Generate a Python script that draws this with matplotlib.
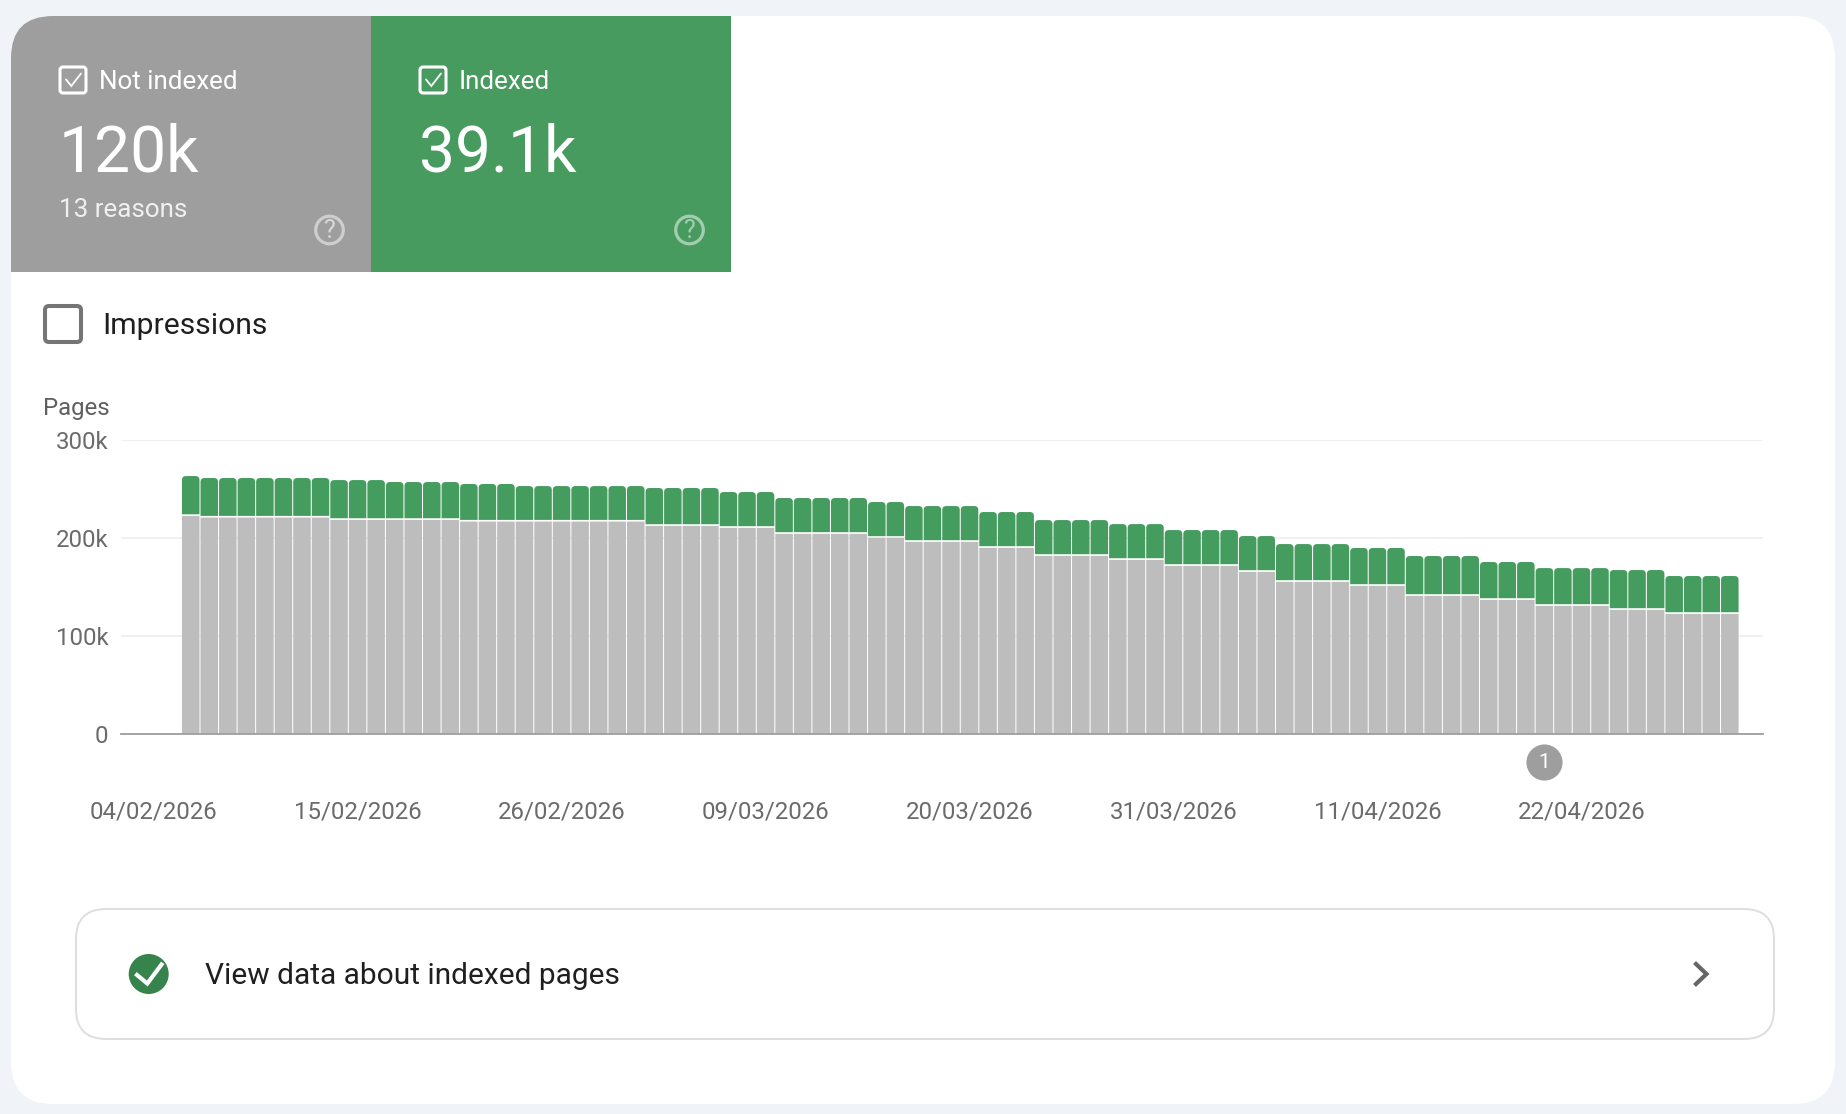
import matplotlib
matplotlib.use('Agg')
import matplotlib.pyplot as plt
from matplotlib.patches import FancyBboxPatch, Rectangle, Circle, PathPatch
from matplotlib.path import Path

plt.rcParams['font.family'] = ['Roboto', 'DejaVu Sans']

# values in thousands of pages, one per day
not_indexed = [223.0,
               221.4, 221.4, 221.4, 221.4, 221.4, 221.4, 221.4,
               219.0, 219.0, 219.0, 219.0, 219.0, 219.0, 219.0,
               217.3, 217.3, 217.3, 217.3, 217.3, 217.3, 217.3, 217.3, 217.3, 217.3,
               212.9, 212.9, 212.9, 212.9,
               210.9, 210.9, 210.9,
               204.8, 204.8, 204.8, 204.8, 204.8,
               200.7, 200.7,
               196.6, 196.6, 196.6, 196.6,
               190.5, 190.5, 190.5,
               182.3, 182.3, 182.3, 182.3,
               178.2, 178.2, 178.2,
               172.1, 172.1, 172.1, 172.1,
               166.0, 166.0,
               155.8, 155.8, 155.8, 155.8,
               151.7, 151.7, 151.7,
               141.5, 141.5, 141.5, 141.5,
               137.4, 137.4, 137.4,
               131.3, 131.3, 131.3, 131.3,
               127.2, 127.2, 127.2,
               123.1, 123.1, 123.1, 123.1]
indexed = [39.9,
           39.5, 39.5, 39.5, 39.5, 39.5, 39.5, 39.5,
           39.8, 39.8, 39.8,
           37.8, 37.8, 37.8, 37.8,
           37.5, 37.5, 37.5,
           35.4, 35.4, 35.4, 35.4, 35.4, 35.4, 35.4,
           37.8, 37.8, 37.8, 37.8,
           35.7, 35.7, 35.7,
           35.7, 35.7, 35.7, 35.7, 35.7,
           35.7, 35.7,
           35.7, 35.7, 35.7, 35.7,
           35.7, 35.7, 35.7,
           35.7, 35.7, 35.7, 35.7,
           35.7, 35.7, 35.7,
           35.7, 35.7, 35.7, 35.7,
           35.7, 35.7,
           37.7, 37.7, 37.7, 37.7,
           37.8, 37.8, 37.8,
           39.8, 39.8, 39.8, 39.8,
           37.8, 37.8, 37.8,
           37.7, 37.7, 37.7, 37.7,
           39.8, 39.8, 39.8,
           37.8, 37.8, 37.8, 37.8]
date_labels = ['04/02/2026', '15/02/2026', '26/02/2026', '09/03/2026',
               '20/03/2026', '31/03/2026', '11/04/2026', '22/04/2026']
date_ticks = [-2, 9, 20, 31, 42, 53, 64, 75]
y_ticks = [0, 100, 200, 300]
y_labels = ['0', '100k', '200k', '300k']
annotation_day = 73

W, H = 1846, 1114
BG = '#f0f4f9'
GREY_TILE = '#9e9e9e'
GREEN = '#489b5f'
BAR_GREEN = '#459c5f'
BAR_GREY = '#bdbdbd'
TXT = '#1f1f1f'
AXIS_TXT = '#6b6b6b'

fig = plt.figure(figsize=(W / 100, H / 100), dpi=100, facecolor=BG)

# page furniture, in pixel coordinates
ui = fig.add_axes([0, 0, 1, 1], zorder=1)
ui.set_xlim(0, W)
ui.set_ylim(H, 0)
ui.axis('off')

card = FancyBboxPatch((11, 16), 1824, 1088, boxstyle='round,pad=0,rounding_size=42',
                      fc='white', ec='none')
ui.add_patch(card)
for x0, col in [(11, GREY_TILE), (371, GREEN)]:
    tile = Rectangle((x0, 16), 360, 256, fc=col, ec='none')
    ui.add_patch(tile)
    tile.set_clip_path(card)


def tile_head(dx, label, number, col):
    ui.add_patch(FancyBboxPatch((60 + dx, 67), 26, 26, boxstyle='round,pad=0,rounding_size=3',
                                fc='none', ec='white', lw=2.2))
    ui.plot([66 + dx, 71.3 + dx, 81 + dx], [79.5, 86, 73.5], color='white', lw=1.3,
            solid_capstyle='round', solid_joinstyle='miter')
    ui.text(99 + dx, 88.7, label, color='white', fontsize=18.7, va='baseline')
    ui.text(59 + dx, 171, number, color='white', fontsize=46.2, va='baseline')
    ui.add_patch(Circle((329.5 + dx, 230), 13.8, fc='none', ec='white', lw=2.3, alpha=0.5))
    ui.text(329.5 + dx, 230.5, '?', color=col, fontsize=18, ha='center', va='center')


tile_head(0, 'Not indexed', '120k', '#d8d8d8')
tile_head(360, 'Indexed', '39.1k', '#a4cdb0')
ui.text(59, 217, '13 reasons', color='#f0f0f0', fontsize=18.7, va='baseline')

ui.add_patch(FancyBboxPatch((45, 306), 36, 36, boxstyle='round,pad=0,rounding_size=4',
                            fc='white', ec='#757575', lw=2.9))
ui.text(102, 334, 'Impressions', color=TXT, fontsize=21.7, va='baseline')
ui.text(43, 415, 'Pages', color='#5f5f5f', fontsize=17.3, va='baseline')

ui.add_patch(FancyBboxPatch((76, 909), 1698, 130, boxstyle='round,pad=0,rounding_size=30',
                            fc='white', ec='#dedede', lw=1.4))
ui.add_patch(Circle((148.7, 974), 20, fc='#37834c', ec='none'))
ui.plot([137, 147.3, 161.5], [975, 983.5, 964.5], color='white', lw=3, solid_joinstyle='miter')
ui.text(205, 984, 'View data about indexed pages', color=TXT, fontsize=21.5, va='baseline')
ui.plot([1696, 1706.5, 1696], [964, 974, 984], color='#666666', lw=3, solid_joinstyle='miter')

# the chart itself
ax = fig.add_axes([121 / W, (H - 733.7) / H, (1763 - 121) / W, 294 / H], zorder=2)
ax.patch.set_alpha(0)
ax.set_xlim(-3.76, 84.79)
ax.set_ylim(0, 300)
for name in ['top', 'left', 'right']:
    ax.spines[name].set_visible(False)
ax.spines['bottom'].set_color('#9e9e9e')
ax.spines['bottom'].set_linewidth(1.3)
ax.set_axisbelow(True)
ax.grid(axis='y', color='#eeeeee', lw=1.2)
ax.set_yticks(y_ticks)
ax.set_yticklabels(y_labels, fontsize=17.3, color=AXIS_TXT)
ax.set_xticks(date_ticks)
ax.set_xticklabels(date_labels, fontsize=17.3, color=AXIS_TXT)
ax.tick_params(axis='y', length=0, pad=9)
ax.tick_params(axis='x', length=0, pad=47.8)

bar_w = 0.945
gap = 0.85  # half of the white line between the two stacks
days = list(range(len(not_indexed)))
bars = ax.bar(days, [v - gap for v in not_indexed], width=bar_w, color=BAR_GREY, lw=0)
for b in bars:
    b.set_snap(False)  # keep the thin day separators from vanishing

rx, ry = 0.22, 4.0
for d, low, h in zip(days, not_indexed, indexed):
    l, r = d - bar_w / 2, d + bar_w / 2
    b, t = low + gap, low + h
    verts = [(l, b), (l, t - ry), (l, t), (l + rx, t), (r - rx, t), (r, t), (r, t - ry), (r, b), (l, b)]
    codes = [Path.MOVETO, Path.LINETO, Path.CURVE3, Path.CURVE3, Path.LINETO,
             Path.CURVE3, Path.CURVE3, Path.LINETO, Path.CLOSEPOLY]
    ax.add_patch(PathPatch(Path(verts, codes), fc=BAR_GREEN, ec='none', snap=False))

ax.plot([annotation_day], [-28.9], 'o', ms=26, color=GREY_TILE, mew=0, clip_on=False)
ax.text(annotation_day, -28.9, '1', color='white', fontsize=15, ha='center', va='center',
        clip_on=False)

fig.savefig('out.png', dpi=100, facecolor=BG)
